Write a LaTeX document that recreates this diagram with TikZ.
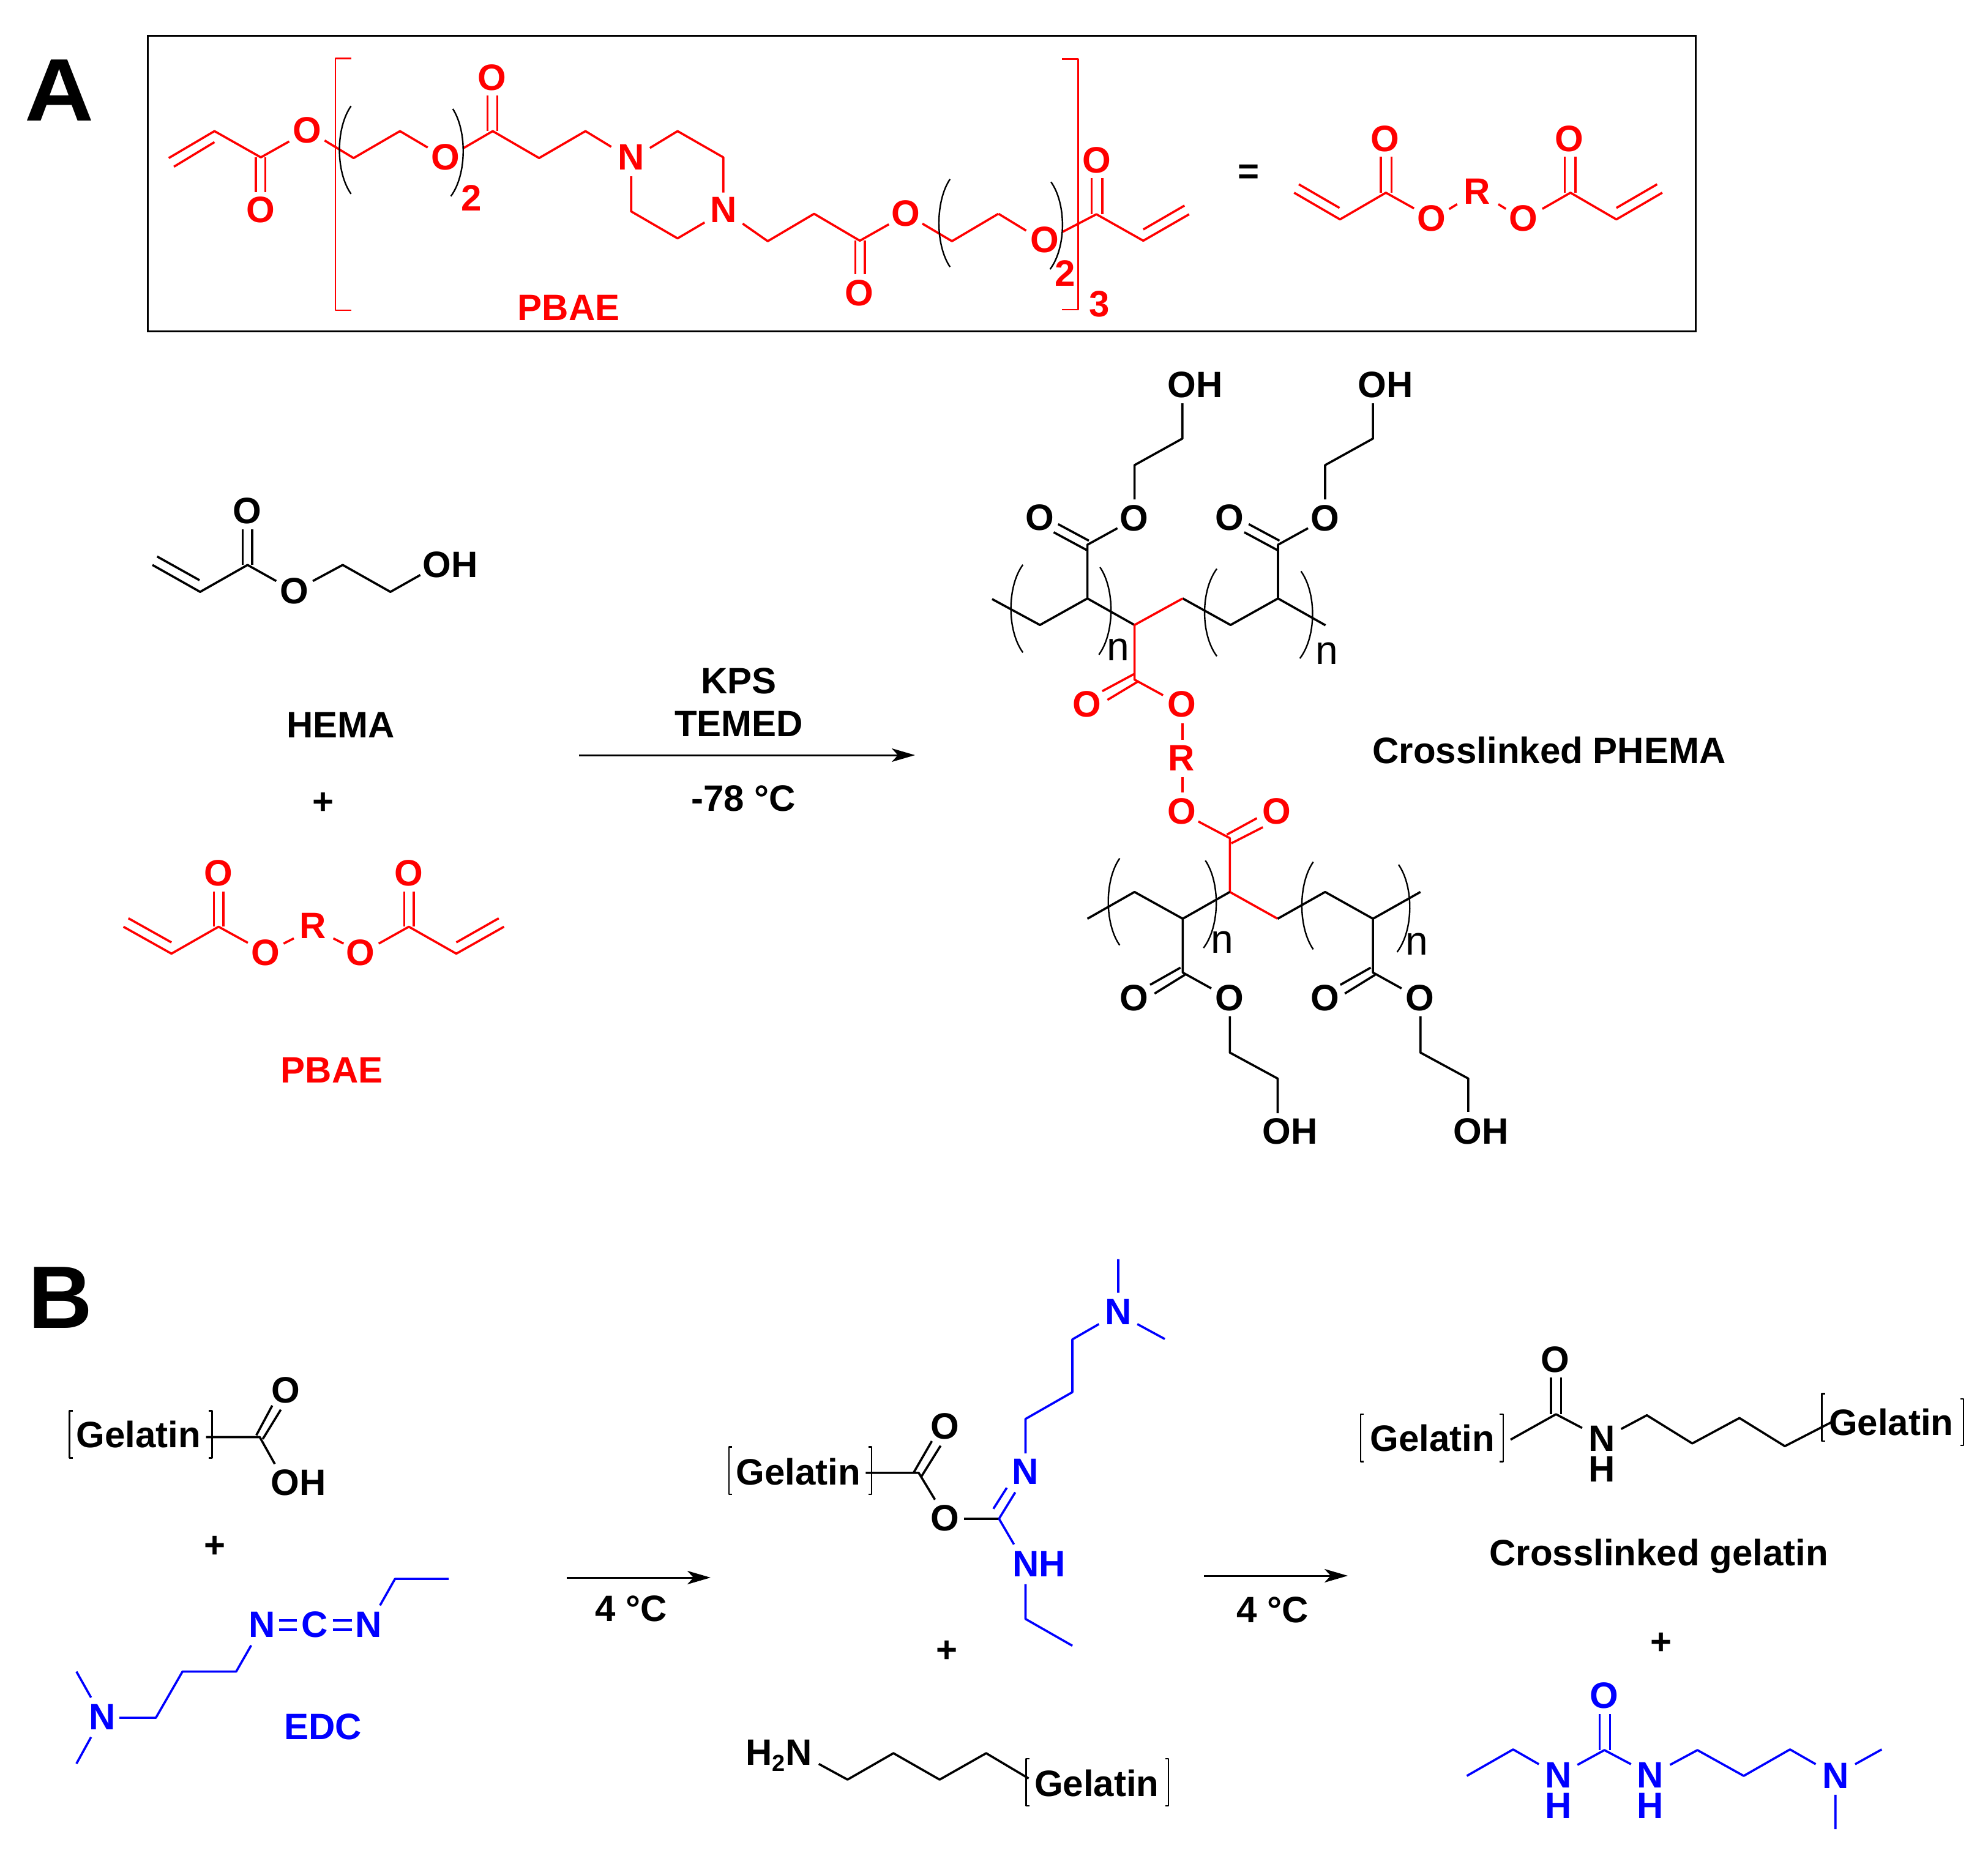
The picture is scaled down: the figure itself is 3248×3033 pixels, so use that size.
\documentclass[tikz,border=0pt]{standalone}
\usepackage{fontspec}
\setmainfont{Liberation Sans}
\usetikzlibrary{arrows.meta}
\tikzset{
  z1/.style={shift={(0pt,0pt)},x=1.0523pt,y=-0.38265pt},
  z2/.style={shift={(1600pt,0pt)},x=0.76531pt,y=-0.38265pt},
  z3/.style={shift={(1550pt,-580pt)},x=0.60587pt,y=-0.5102pt},
  z4/.style={shift={(1650pt,-1250pt)},x=0.60587pt,y=-0.44643pt},
  z5/.style={shift={(0pt,-2200pt)},x=0.70153pt,y=-0.5102pt},
  z6/.style={shift={(1150pt,-2050pt)},x=0.5102pt,y=-0.625pt},
  z7/.style={shift={(2150pt,-2150pt)},x=0.70026pt,y=-0.56122pt},
  z8/.style={shift={(150pt,-780pt)},x=0.47832pt,y=-0.65689pt},
  lab/.style={inner sep=0pt,text height=43pt,text depth=0pt,font=\fontsize{60}{60}\selectfont\bfseries},
  stack/.style={inner sep=0pt,align=center,font=\fontsize{60}{50}\selectfont\bfseries},
  big/.style={inner sep=0pt,text height=104pt,text depth=0pt,font=\fontsize{145}{145}\selectfont\bfseries},
  sub/.style={inner sep=0pt,text height=34pt,text depth=0pt,font=\fontsize{66}{66}\selectfont},
  bond/.style={line width=3.6pt,line join=round},
  fine/.style={line width=2.4pt,line join=round},
  rxn/.style={line width=3pt,-{Stealth[length=38pt,width=22pt,inset=10pt]}},
  rd/.style={draw=red,text=red,color=red},
  bl/.style={draw=blue,text=blue,color=blue},
  frame/.style={draw=black,line width=3pt}
}
\begin{document}
\begin{tikzpicture}
\useasboundingbox (0pt,0pt) rectangle (3248pt,-3033pt);
\node[frame,inner sep=0pt,minimum width=2529pt,minimum height=483pt] (box) at (1505.5pt,-299.5pt) {};

% ---- A, PBAE long formula
\begin{scope}[z1]
\node[big] (A) at (92,381) {\scalebox{1.08}[1]{A}};
\begin{scope}[rd]
\draw[bond] (262,675)--(333,560)--(405,672)--(449,604);
\draw[bond] (270,712)--(333,607);
\draw[bond] (397,672)--(397,820) (412,672)--(412,820);
\draw[bond] (504,600)--(549,675)--(621,560)--(664,630);
\draw[bond] (720,632)--(765,560)--(837,675)--(909,560)--(949,627);
\draw[bond] (757,408)--(757,560) (772,408)--(772,560);
\draw[bond] (1009,632)--(1052,560)--(1123,672)--(1123,822);
\draw[bond] (980,753)--(980,903)--(1052,1018)--(1094,950);
\draw[bond] (1153,955)--(1192,1030)--(1264,913)--(1335,1028)--(1380,958);
\draw[bond] (1328,1028)--(1328,1172) (1343,1028)--(1343,1172);
\draw[bond] (1432,955)--(1478,1030)--(1550,913);
\draw[fine] (545,250)--(521,250)--(521,1325)--(545,1325);
\node[lab] (o1) at (477,555) {O};
\node[lab] (o2) at (405,895) {O};
\node[lab] (o3) at (692,668) {O};
\node[lab] (o4) at (764,328) {O};
\node[lab] (n1) at (980,668) {N};
\node[lab] (n2) at (1123,895) {N};
\node[lab] (o5) at (1406,910) {O};
\node[lab] (o6) at (1334,1250) {O};
\node[lab] (s2a) at (732,843) {2};
\node[lab] (pbae1) at (883,1312) {PBAE};
\end{scope}
\draw[fine] (545,453) .. controls (521,547) and (521,734) .. (545,828);
\draw[fine] (703,465) .. controls (725,558) and (725,745) .. (700,838);
\draw[fine] (1475,765) .. controls (1452,859) and (1452,1046) .. (1475,1140);
\end{scope}

\begin{scope}[z2]
\begin{scope}[rd]
\draw[bond] (41,913)--(100,985);
\draw[bond] (178,990)--(250,915)--(350,1028)--(448,915);
\draw[bond] (350,980)--(438,878);
\draw[bond] (240,760)--(240,915) (263,760)--(263,915);
\draw[fine] (177,252)--(211,252)--(211,1323)--(177,1323);
\node[lab] (o7) at (140,1022) {O};
\node[lab] (o8) at (250,682) {O};
\node[lab] (s2b) at (183,1165) {2};
\node[lab] (s3) at (256,1295) {3};
% short form
\draw[bond] (672,823)--(770,937)--(868,823)--(928,890);
\draw[bond] (682,787)--(769,888);
\draw[bond] (857,670)--(857,823) (880,670)--(880,823);
\draw[bond] (1003,893)--(1020,872) (1108,872)--(1124,892);
\draw[bond] (1202,892)--(1262,823)--(1360,937)--(1458,823);
\draw[bond] (1360,888)--(1447,787);
\draw[bond] (1250,670)--(1250,823) (1273,670)--(1273,823);
\node[lab] (o9) at (866,590) {O};
\node[lab] (o10) at (965,930) {O};
\node[lab] (r1) at (1062,815) {R};
\node[lab] (o11) at (1162,930) {O};
\node[lab] (o12) at (1260,590) {O};
\end{scope}
\draw[fine] (153,777) .. controls (186,870) and (186,1057) .. (151,1150);
\node[lab] (eq) at (575,730) {=};
\end{scope}

% ---- HEMA + PBAE
\begin{scope}[z8]
\draw[bond] (207,218)--(370,285)--(532,218)--(630,258);
\draw[bond] (223,197)--(368,256);
\draw[bond] (515,130)--(515,218) (548,130)--(548,218);
\draw[bond] (755,258)--(857,218)--(1020,285)--(1122,243);
\node[lab] (ho1) at (530,82) {O};
\node[lab] (ho2) at (692,282) {O};
\node[lab] (hoh) at (1225,216) {OH};
\node[lab] (hema) at (850,615) {HEMA};
\node[lab] (plus1) at (791,806) {+};
\begin{scope}[rd]
\draw[bond] (108,1118)--(272,1185)--(433,1118)--(533,1158);
\draw[bond] (125,1097)--(272,1157);
\draw[bond] (417,1030)--(417,1118) (450,1030)--(450,1118);
\draw[bond] (655,1160)--(690,1147) (825,1147)--(860,1160);
\draw[bond] (980,1160)--(1083,1118)--(1245,1185)--(1408,1118);
\draw[bond] (1245,1157)--(1390,1097);
\draw[bond] (1067,1030)--(1067,1118) (1100,1030)--(1100,1118);
\node[lab] (po1) at (432,983) {O};
\node[lab] (po2) at (594,1182) {O};
\node[lab] (pr) at (755,1115) {R};
\node[lab] (po3) at (918,1182) {O};
\node[lab] (po4) at (1082,983) {O};
\node[lab] (pbae2) at (820,1473) {PBAE};
\end{scope}
\end{scope}

% ---- arrow A
\coordinate (a1s) at (946pt,-1234pt);
\coordinate (a1e) at (1495pt,-1234pt);
\draw[rxn] (a1s) -- (a1e);
\node[lab] (kps) at (1207pt,-1112pt) {KPS};
\node[lab] (temed) at (1207pt,-1182pt) {TEMED};
\node[lab] (t78) at (1215pt,-1304pt) {-78 °C};
\node[lab] (phema) at (2531pt,-1226pt) {Crosslinked PHEMA};

% ---- Crosslinked PHEMA, upper
\begin{scope}[z3]
\draw[bond] (630,155)--(630,268)--(501,353)--(501,463);
\draw[bond] (455,555)--(374,608)--(374,780);
\draw[bond] (295,542)--(378,595) (283,568)--(372,625);
\draw[bond] (117,782)--(246,865)--(374,780)--(501,865);
\draw[bond] (631,780)--(760,865)--(888,780)--(1016,866);
\draw[bond] (888,780)--(888,608)--(969,555);
\draw[bond] (809,542)--(892,595) (797,568)--(886,625);
\draw[bond] (1015,463)--(1015,353)--(1144,268)--(1144,155);
\node[lab] (u1) at (665,95) {OH};
\node[lab] (u2) at (1178,95) {OH};
\node[lab] (u3) at (500,522) {O};
\node[lab] (u4) at (245,520) {O};
\node[lab] (u5) at (1015,522) {O};
\node[lab] (u6) at (758,520) {O};
\draw[fine] (200,672) .. controls (157,742) and (157,883) .. (200,953);
\draw[fine] (408,680) .. controls (448,750) and (448,890) .. (405,960);
\draw[fine] (723,685) .. controls (679,755) and (679,895) .. (723,965);
\draw[fine] (950,693) .. controls (992,763) and (992,902) .. (947,972);
\node[sub] (n3) at (457,945) {n};
\node[sub] (n4) at (1020,957) {n};
\begin{scope}[rd]
\draw[bond] (631,780)--(501,865)--(501,1040)--(578,1090);
\draw[bond] (500,1022)--(414,1077) (512,1045)--(428,1105);
\draw[bond] (630,1180)--(630,1232) (630,1352)--(630,1402);
\node[lab] (x1) at (372,1118) {O};
\node[lab] (x2) at (629,1118) {O};
\node[lab] (x3) at (627,1290) {R};
\node[lab] (x4) at (629,1460) {O};
\node[lab] (x5) at (885,1460) {O};
\end{scope}
\end{scope}

% ---- Crosslinked PHEMA, lower
\begin{scope}[z4]
\begin{scope}[rd]
\draw[bond] (508,207)--(593,268)--(593,465)--(722,563);
\draw[bond] (666,195)--(585,255) (682,228)--(597,287);
\end{scope}
\draw[bond] (209,563)--(336,465)--(466,563)--(593,465);
\draw[bond] (722,563)--(850,465)--(979,563)--(1107,465);
\draw[bond] (543,818)--(466,760)--(466,563);
\draw[bond] (460,742)--(378,805) (472,768)--(390,837);
\draw[bond] (593,920)--(593,1053)--(722,1148)--(722,1275);
\draw[bond] (1056,818)--(979,760)--(979,563);
\draw[bond] (973,742)--(891,805) (985,768)--(903,837);
\draw[bond] (1107,920)--(1107,1053)--(1236,1148)--(1236,1270);
\node[lab] (l1) at (335,852) {O};
\node[lab] (l2) at (592,852) {O};
\node[lab] (l3) at (849,852) {O};
\node[lab] (l4) at (1105,852) {O};
\node[lab] (l5) at (755,1340) {OH};
\node[lab] (l6) at (1270,1340) {OH};
\draw[fine] (296,342) .. controls (255,421) and (255,581) .. (296,660);
\draw[fine] (527,350) .. controls (567,430) and (567,590) .. (522,670);
\draw[fine] (818,355) .. controls (777,435) and (777,595) .. (818,675);
\draw[fine] (1048,365) .. controls (1089,445) and (1089,605) .. (1044,685);
\node[sub] (n5) at (573,650) {n};
\node[sub] (n6) at (1098,658) {n};
\end{scope}

% ---- B
\node[big] (B) at (99pt,-2118pt) {B};
\begin{scope}[z5]
\draw[fine] (170,207)--(162,207)--(162,358)--(170,358);
\draw[fine] (486,207)--(494,207)--(494,358)--(486,358);
\draw[bond] (480,291)--(605,291)--(640,377);
\draw[bond] (597,285)--(634,190) (612,297)--(654,203);
\node[lab] (g1) at (323,282) {Gelatin};
\node[lab] (g1o) at (665,140) {O};
\node[lab] (g1h) at (695,435) {OH};
\node[lab] (plus2) at (500,635) {+};
\begin{scope}[bl]
\draw[bond] (650,878)--(692,878) (650,908)--(692,908);
\draw[bond] (775,878)--(820,878) (775,908)--(820,908);
\draw[bond] (885,830)--(920,745)--(1045,745);
\draw[bond] (585,958)--(550,1042)--(425,1042)--(363,1190)--(278,1190);
\draw[bond] (178,1042)--(212,1125) (212,1252)--(178,1337);
\node[lab] (e1) at (610,890) {N};
\node[lab] (e2) at (733,890) {C};
\node[lab] (e3) at (858,890) {N};
\node[lab] (e4) at (238,1185) {N};
\node[lab] (edc) at (752,1218) {EDC};
\end{scope}
\end{scope}
\coordinate (a2s) at (926pt,-2578pt);
\coordinate (a2e) at (1161pt,-2578pt);
\draw[rxn] (a2s) -- (a2e);
\node[lab] (t1) at (1031pt,-2628pt) {4 °C};

\begin{scope}[z6]
\draw[fine] (90,503)--(80,503)--(80,627)--(90,627);
\draw[fine] (527,503)--(537,503)--(537,627)--(527,627);
\draw[bond] (518,571)--(688,571)--(740,641);
\draw[bond] (672,570)--(730,488) (697,580)--(758,500);
\draw[bond] (833,691)--(945,691);
\node[lab] (g2) at (303,568) {Gelatin};
\node[lab] (g2a) at (772,448) {O};
\node[lab] (g2b) at (772,688) {O};
\node[lab] (plus3) at (779,1032) {+};
\begin{scope}[bl]
\draw[bond] (927,665)--(970,610) (945,691)--(997,622);
\draw[bond] (945,691)--(993,758);
\draw[bond] (1030,862)--(1030,953)--(1180,1023);
\draw[bond] (1030,520)--(1030,430)--(1180,360)--(1180,222)--(1265,182);
\draw[bond] (1327,12)--(1327,100) (1388,182)--(1476,221);
\node[lab] (i1) at (1030,567) {N};
\node[lab] (i2) at (1073,808) {NH};
\node[lab] (i3) at (1327,148) {N};
\end{scope}
\node[lab] (h2n) at (240,1300) {H\raisebox{-10pt}{\fontsize{38}{38}\selectfont 2}N};
\draw[bond] (368,1332)--(460,1373)--(607,1304)--(755,1373)--(904,1304)--(1040,1370);
\node[lab] (g3) at (1258,1382) {Gelatin};
\draw[fine] (1042,1318)--(1032,1318)--(1032,1442)--(1042,1442);
\draw[fine] (1478,1318)--(1488,1318)--(1488,1442)--(1478,1442);
\end{scope}

\coordinate (a3s) at (1967pt,-2575pt);
\coordinate (a3e) at (2202pt,-2575pt);
\draw[rxn] (a3s) -- (a3e);
\node[lab] (t2) at (2079pt,-2630pt) {4 °C};

\begin{scope}[z7]
\draw[fine] (112,287)--(104,287)--(104,425)--(112,425);
\draw[fine] (429,287)--(437,287)--(437,425)--(429,425);
\draw[bond] (454,361)--(560,287)--(621,327);
\draw[bond] (548,180)--(548,287) (572,180)--(572,287);
\draw[bond] (712,330)--(772,290)--(878,372)--(988,298)--(1094,380)--(1203,310);
\draw[fine] (1188,227)--(1180,227)--(1180,365)--(1188,365);
\draw[fine] (1503,242)--(1511,242)--(1511,378)--(1503,378);
\node[lab] (g4) at (272,357) {Gelatin};
\node[lab] (g5) at (1342,310) {Gelatin};
\node[lab] (c1) at (558,127) {O};
\node[stack] (c2) at (667,403) {N\\H};
\node[lab] (cg) at (800,690) {Crosslinked gelatin};
\node[lab] (plus4) at (806,948) {+};
\begin{scope}[bl]
\draw[bond] (662,1160)--(662,1265) (686,1160)--(686,1265);
\draw[bond] (352,1340)--(460,1263)--(520,1306);
\draw[bond] (610,1308)--(673,1265)--(735,1306);
\draw[bond] (826,1308)--(890,1265)--(998,1340)--(1106,1263)--(1166,1306);
\draw[bond] (1258,1306)--(1320,1263) (1212,1395)--(1212,1495);
\node[lab] (u10) at (672,1105) {O};
\node[stack] (u11) at (566,1382.5) {N\\H};
\node[stack] (u13) at (780,1382.5) {N\\H};
\node[lab] (u15) at (1212,1338) {N};
\end{scope}
\end{scope}
\end{tikzpicture}
\end{document}
